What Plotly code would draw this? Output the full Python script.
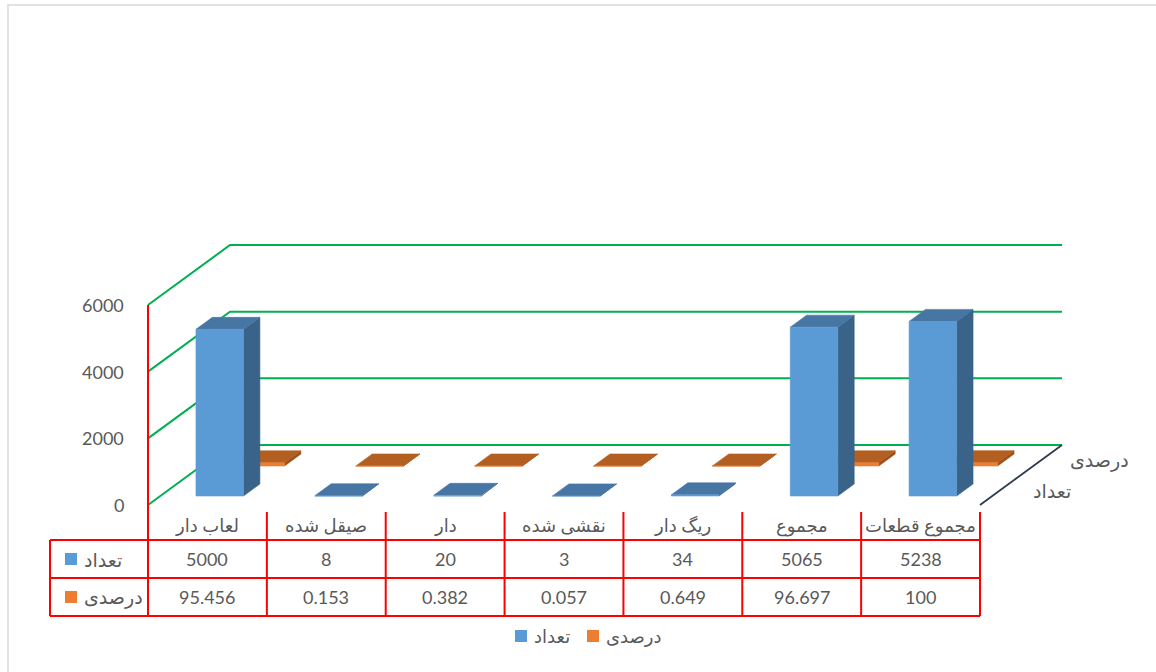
import plotly.graph_objects as go

# ---- data ----
categories = ["لعاب دار", "صیقل شده", "دار", "نقشی شده", "ریگ دار", "مجموع", "مجموع قطعات"]
series_names = ["تعداد", "درصدی"]
counts = [5000, 8, 20, 3, 34, 5065, 5238]
percents = [95.456, 0.153, 0.382, 0.057, 0.649, 96.697, 100]
y_ticks = [0, 2000, 4000, 6000]
series_colors = ["#5B9BD5", "#ED7D31"]

# ---- canvas / projection setup ----
W, H = 1156, 672
X_LEFT_PX, X_RIGHT_PX = 148, 980          # front floor edge, left/right
Y0_PX, YTOP_PX = 505, 305                 # y = 0 and y = 6000 on the front plane
n = len(categories)
px_per_cat = (X_RIGHT_PX - X_LEFT_PX) / n
units_per_px = (y_ticks[-1] - y_ticks[0]) / (Y0_PX - YTOP_PX)
x_range = [-X_LEFT_PX / px_per_cat, (W - X_LEFT_PX) / px_per_cat]
y_range = [-(H - Y0_PX) * units_per_px, Y0_PX * units_per_px]

DX = 82 / px_per_cat          # horizontal shift for full depth
DY = 60 * units_per_px        # vertical shift for full depth
BAR_W = 0.40
ROWS = [  # (values, depth start, depth end, front, top, side)
    (percents, 0.65, 0.85, "#ED7D31", "#B45F22", "#9C4F19"),
    (counts, 0.15, 0.35, "#5B9BD5", "#4876A4", "#3A6389"),
]

FONT = "Lato, DejaVu Sans, sans-serif"
GRAY = "#595959"
RED = "#FF0000"


def proj(x, y, d):
    return x + d * DX, y + d * DY


def poly(pts, color):
    xs, ys = zip(*[proj(*p) for p in pts])
    return go.Scatter(x=list(xs) + [xs[0]], y=list(ys) + [ys[0]], mode="lines",
                      fill="toself", fillcolor=color, line=dict(width=0.6, color=color),
                      hoverinfo="skip", showlegend=False)


fig = go.Figure()

# back wall / side wall gridlines
for v in y_ticks:
    fig.add_trace(go.Scatter(x=[0, DX, n + DX], y=[v, v + DY, v + DY], mode="lines",
                             line=dict(color="#00B050", width=2), hoverinfo="skip",
                             showlegend=False))

# right edge of the floor
fig.add_trace(go.Scatter(x=[n, n + DX], y=[0, DY], mode="lines",
                         line=dict(color="#2F3B52", width=1.8), hoverinfo="skip",
                         showlegend=False))

# 3D columns, back row first
for values, d0, d1, c_front, c_top, c_side in ROWS:
    for i, v in enumerate(values):
        x0, x1 = i + 0.5 - BAR_W / 2, i + 0.5 + BAR_W / 2
        fig.add_trace(poly([(x1, 0, d0), (x1, 0, d1), (x1, v, d1), (x1, v, d0)], c_side))
        fig.add_trace(poly([(x0, v, d0), (x1, v, d0), (x1, v, d1), (x0, v, d1)], c_top))
        fig.add_trace(poly([(x0, 0, d0), (x1, 0, d0), (x1, v, d0), (x0, v, d0)], c_front))

# front value axis
fig.add_trace(go.Scatter(x=[0, 0], y=[0, y_ticks[-1]], mode="lines",
                         line=dict(color=RED, width=2), hoverinfo="skip", showlegend=False))

annotations = []
shapes = []


def text(x, y, s, size=19, xanchor="center", xref="x", yref="paper", xshift=0):
    annotations.append(dict(x=x, y=y, xref=xref, yref=yref, text=s, showarrow=False,
                            xanchor=xanchor, yanchor="middle", xshift=xshift,
                            font=dict(size=size, color=GRAY)))


def py(px):
    return 1 - px / H


# value axis tick labels
for v in y_ticks:
    text(0, v, str(v), size=18, xanchor="right", yref="y", xshift=-22)

# series names along the depth axis
for (values, d0, d1, *_), name, shift in zip(ROWS, [series_names[1], series_names[0]], [26, 30]):
    x, y = proj(n, 0, (d0 + d1) / 2)
    text(x, y, name, xanchor="left", yref="y", xshift=shift)

# ---- data table ----
head_x = (50 - X_LEFT_PX) / px_per_cat
for yp in [540, 578, 616]:
    shapes.append(dict(type="line", xref="x", yref="paper", x0=head_x, x1=n,
                       y0=py(yp), y1=py(yp), line=dict(color=RED, width=2)))
shapes.append(dict(type="line", xref="x", yref="paper", x0=head_x, x1=head_x,
                   y0=py(540), y1=py(616), line=dict(color=RED, width=2)))
for k in range(n + 1):
    shapes.append(dict(type="line", xref="x", yref="paper", x0=k, x1=k,
                       y0=py(505 if k == 0 else 512), y1=py(616),
                       line=dict(color=RED, width=2)))

for i, c in enumerate(categories):
    text(i + 0.5, py(525), c, size=18)
for i, (a, b) in enumerate(zip(counts, percents)):
    text(i + 0.5, py(559), f"{a:g}", size=18)
    text(i + 0.5, py(597), f"{b:g}", size=18)

# row headers with series swatches
for name, color, yc in zip(series_names, series_colors, [559, 597]):
    shapes.append(dict(type="rect", xref="paper", yref="paper",
                       x0=65 / W, x1=77 / W, y0=py(yc + 6), y1=py(yc - 6),
                       fillcolor=color, line=dict(width=0)))
    text(82 / W, py(yc), name, xanchor="left", xref="paper")

# legend below the table
leg_x = 515
for name, color in zip(series_names, series_colors):
    shapes.append(dict(type="rect", xref="paper", yref="paper",
                       x0=leg_x / W, x1=(leg_x + 12) / W, y0=py(642), y1=py(630),
                       fillcolor=color, line=dict(width=0)))
    text((leg_x + 17) / W, py(636), name, size=18, xanchor="left", xref="paper")
    leg_x += 72

# chart area border
shapes.append(dict(type="rect", xref="paper", yref="paper", x0=8 / W, x1=1.05,
                   y0=-0.05, y1=py(5), line=dict(color="#D9D9D9", width=1.5),
                   layer="below"))

fig.update_layout(
    width=W, height=H,
    margin=dict(l=0, r=0, t=0, b=0),
    paper_bgcolor="white", plot_bgcolor="white",
    font=dict(family=FONT, color=GRAY),
    xaxis=dict(range=x_range, visible=False, fixedrange=True, domain=[0, 1]),
    yaxis=dict(range=y_range, visible=False, fixedrange=True, domain=[0, 1]),
    showlegend=False,
    hovermode=False,
    annotations=annotations,
    shapes=shapes,
)

fig.write_html("out.html")
